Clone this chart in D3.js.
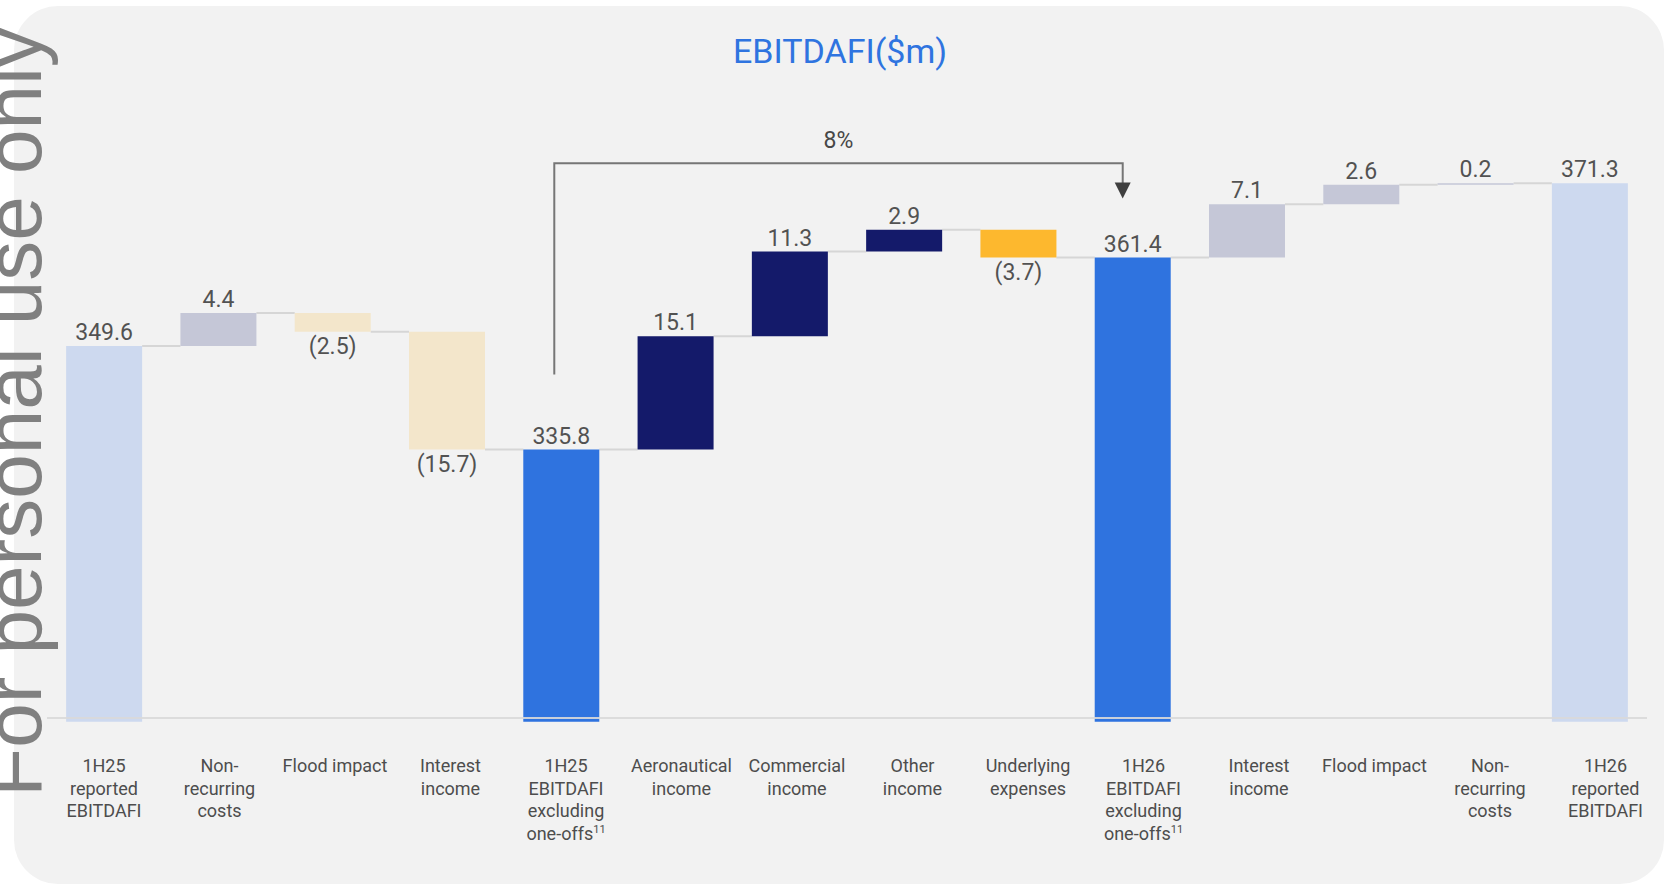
<!DOCTYPE html>
<html>
<head>
<meta charset="utf-8">
<script src="https://cdn.jsdelivr.net/npm/d3@7"></script>
<style>
  html, body { margin: 0; padding: 0; background: #ffffff; }
  svg { display: block; }
  text { font-family: Roboto, "Open Sans", sans-serif; }
</style>
</head>
<body>
<svg id="chart" width="1666" height="887"></svg>
<script>
// EBITDAFI bridge, 1H25 -> 1H26 ($m)
const categories = [
  ["1H25", "reported", "EBITDAFI"],
  ["Non-", "recurring", "costs"],
  ["Flood impact"],
  ["Interest", "income"],
  ["1H25", "EBITDAFI", "excluding", "one-offs"],
  ["Aeronautical", "income"],
  ["Commercial", "income"],
  ["Other", "income"],
  ["Underlying", "expenses"],
  ["1H26", "EBITDAFI", "excluding", "one-offs"],
  ["Interest", "income"],
  ["Flood impact"],
  ["Non-", "recurring", "costs"],
  ["1H26", "reported", "EBITDAFI"]
];
const footnotes = ["", "", "", "", "11", "", "", "", "", "11", "", "", "", ""];
const values = [349.6, 4.4, -2.5, -15.7, 335.8, 15.1, 11.3, 2.9, -3.7, 361.4, 7.1, 2.6, 0.2, 371.3];
const isTotal = [true, false, false, false, true, false, false, false, false, true, false, false, false, true];
const groups = ["reported", "oneOffUp", "oneOffDown", "oneOffDown", "underlying",
                "growth", "growth", "growth", "expense", "underlying",
                "oneOffUp", "oneOffUp", "oneOffUp", "reported"];
const axisBase = 300;      // value where the baseline sits
const barFloor = 299.5;    // totals start just under the baseline
const growthLabel = "8%";
const titleText = "EBITDAFI($m)";

const svg = d3.select("#chart");
const W = 1666, H = 887;

// panel
svg.append("rect")
  .attr("x", 14).attr("y", 6)
  .attr("width", W - 16).attr("height", 878)
  .attr("rx", 44).attr("ry", 44)
  .attr("fill", "#f2f2f2");

const x = d3.scaleBand()
  .domain(d3.range(values.length))
  .range([47, 1647])
  .paddingInner(0.335)
  .paddingOuter(0.1675);

// category captions sit on their own, slightly wider grid
const xCat = d3.scalePoint()
  .domain(d3.range(categories.length))
  .range([104, 1605.5]);

const y = d3.scaleLinear()
  .domain([axisBase, 380])
  .range([718, 118]);

const color = d3.scaleOrdinal()
  .domain(["reported", "oneOffUp", "oneOffDown", "underlying", "growth", "expense"])
  .range(["#cdd9ef", "#c5c7d7", "#f3e6cb", "#2f73df", "#141a6a", "#fdb82e"]);

// running totals -> bar extents
let running = 0;
const bars = values.map((v, i) => {
  let lo, hi, level;
  if (isTotal[i]) {
    lo = barFloor; hi = v; level = v;
  } else {
    const start = running;
    level = running + v;
    lo = Math.min(start, level); hi = Math.max(start, level);
  }
  running = level;
  return { i, v, lo, hi, level, total: isTotal[i], group: groups[i] };
});

// connectors between neighbouring bars
const conn = svg.append("g");
bars.slice(0, -1).forEach((b) => {
  conn.append("line")
    .attr("x1", x(b.i) + x.bandwidth())
    .attr("x2", x(b.i + 1))
    .attr("y1", y(b.level)).attr("y2", y(b.level))
    .attr("stroke", "#d6d6d6").attr("stroke-width", 2);
});

// bars
svg.append("g").selectAll("rect")
  .data(bars)
  .join("rect")
  .attr("x", d => x(d.i))
  .attr("width", x.bandwidth())
  .attr("y", d => y(d.hi))
  .attr("height", d => y(d.lo) - y(d.hi))
  .attr("fill", d => color(d.group));

// baseline
svg.append("line")
  .attr("x1", 47).attr("x2", 1647)
  .attr("y1", y(axisBase)).attr("y2", y(axisBase))
  .attr("stroke", "#dadada").attr("stroke-width", 2)
  .attr("opacity", 0.9);

// value labels
const fmt = d3.format(".1f");
svg.append("g").selectAll("text")
  .data(bars)
  .join("text")
  .attr("x", d => x(d.i) + x.bandwidth() / 2)
  .attr("y", d => d.v < 0 ? y(d.lo) + 22 : y(d.hi) - 6)
  .attr("text-anchor", "middle")
  .attr("font-size", 23)
  .attr("fill", "#525252")
  .text(d => d.v < 0 ? `(${fmt(-d.v)})` : fmt(d.v));

// category labels
const cat = svg.append("g").selectAll("text")
  .data(categories)
  .join("text")
  .attr("text-anchor", "middle")
  .attr("font-size", 18)
  .attr("fill", "#4d4d4d");
cat.each(function (lines, i) {
  const t = d3.select(this);
  const cx = xCat(i);
  lines.forEach((line, j) => {
    const ts = t.append("tspan")
      .attr("x", cx)
      .attr("y", 772 + j * 22.5)
      .text(line);
    if (j === lines.length - 1 && footnotes[i]) {
      ts.append("tspan")
        .attr("font-size", 11)
        .attr("dy", -7)
        .text(footnotes[i]);
    }
  });
});

// growth bracket from 1H25 to 1H26 underlying EBITDAFI
const xa = x(4) + x.bandwidth() / 2 - 7;
const xb = x(9) + x.bandwidth() / 2 - 10;
const yStart = y(values[4]) - 75;
const yTop = y(d3.max(values.filter((v, i) => isTotal[i]))) - 20;
const yTip = y(values[9]) - 59;
svg.append("path")
  .attr("d", `M${xa},${yStart} V${yTop} H${xb} V${yTip - 14}`)
  .attr("fill", "none")
  .attr("stroke", "#767676")
  .attr("stroke-width", 2);
svg.append("path")
  .attr("d", `M${xb - 8},${yTip - 16} L${xb + 8},${yTip - 16} L${xb},${yTip} Z`)
  .attr("fill", "#3f3f3f");
svg.append("text")
  .attr("x", (xa + xb) / 2)
  .attr("y", yTop - 15)
  .attr("text-anchor", "middle")
  .attr("font-size", 23)
  .attr("fill", "#474747")
  .text(growthLabel);

// title
svg.append("text")
  .attr("x", 840).attr("y", 63)
  .attr("text-anchor", "middle")
  .attr("font-size", 34)
  .attr("fill", "#2f74e0")
  .text(titleText);

// side watermark
svg.append("text")
  .attr("transform", "translate(41,412) rotate(-90)")
  .attr("text-anchor", "middle")
  .style("font-family", "'Liberation Sans', Arial, sans-serif")
  .attr("font-size", 80)
  .attr("fill", "#808080")
  .text("For personal use only");
</script>
</body>
</html>
